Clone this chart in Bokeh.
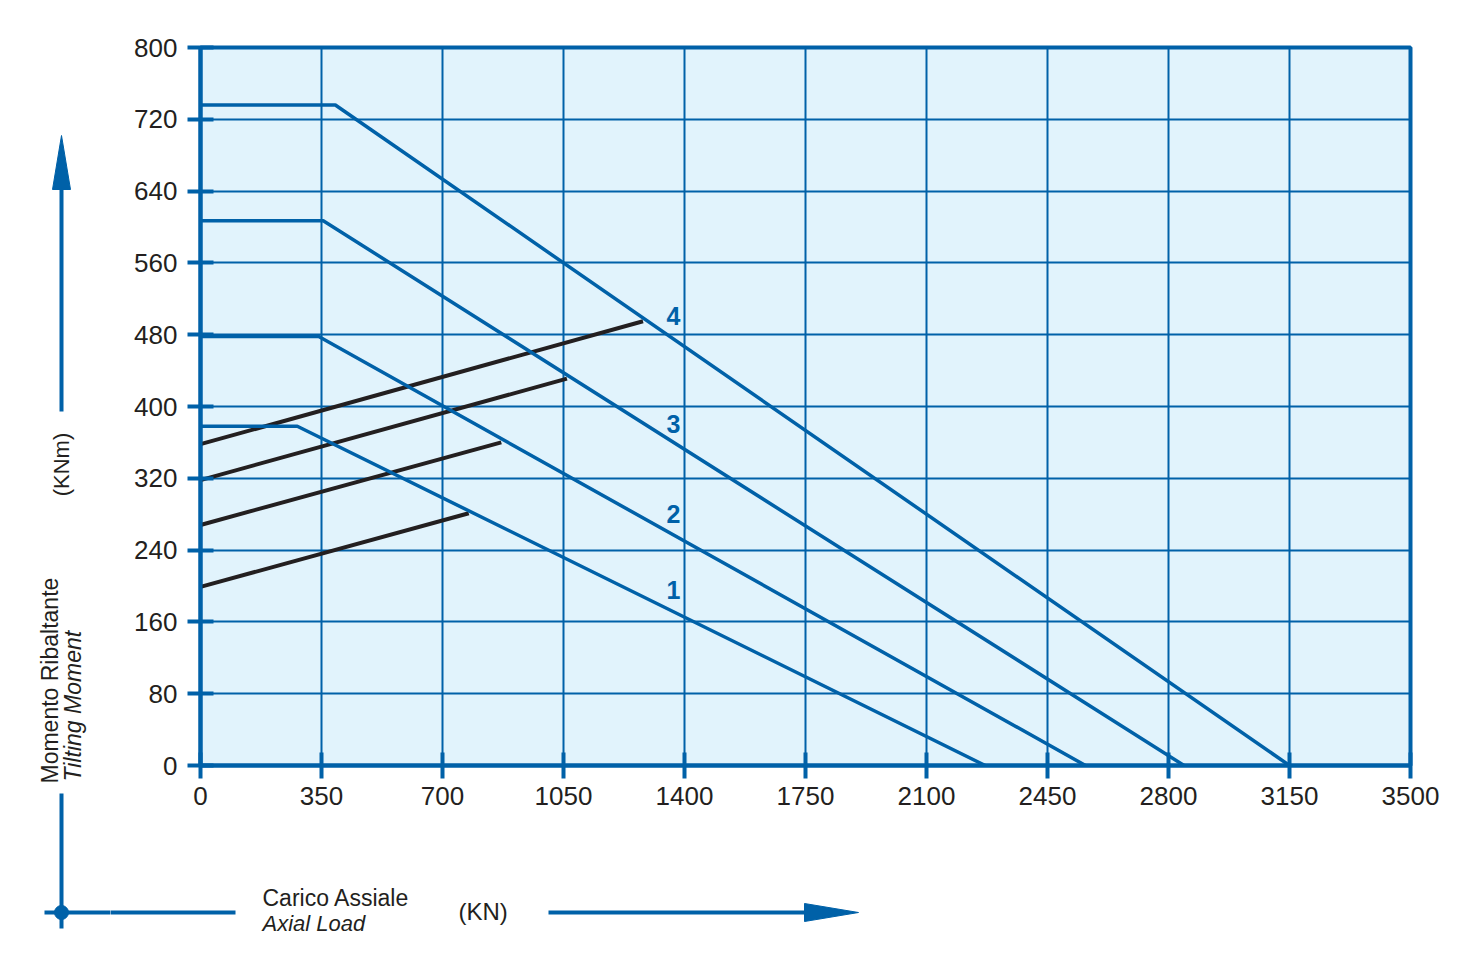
import numpy as np
from bokeh.plotting import figure
from bokeh.layouts import row, column
from bokeh.models import Range1d, FixedTicker, ColumnDataSource
from bokeh.core.properties import value
from bokeh.embed import file_html
from bokeh.resources import INLINE

# ---------------- data ----------------
x_ticks = [0, 350, 700, 1050, 1400, 1750, 2100, 2450, 2800, 3150, 3500]
y_ticks = [0, 80, 160, 240, 320, 400, 480, 560, 640, 720, 800]

curve_names = ["1", "2", "3", "4"]
# blue limit curves (tilting moment vs axial load)
curve1_x = [0, 280, 2270]
curve1_y = [378, 378, 0]
curve2_x = [0, 342, 2560]
curve2_y = [478, 478, 0]
curve3_x = [0, 355, 2845]
curve3_y = [607, 607, 0]
curve4_x = [0, 390, 3150]
curve4_y = [736, 736, 0]

# black load lines
load1_x = [0, 776]
load1_y = [199, 281]
load2_x = [0, 870]
load2_y = [268, 360]
load3_x = [0, 1060]
load3_y = [318, 431]
load4_x = [0, 1280]
load4_y = [358, 495]

label_x = [1368, 1368, 1368, 1368]
label_y = [195, 280, 381, 501]

y_title = ["Momento Ribaltante", "Tilting Moment"]
y_unit = "(KNm)"
x_title = ["Carico Assiale", "Axial Load"]
x_unit = "(KN)"

# ---------------- style ----------------
BLUE = "#0061A8"
DARK = "#231F20"
BG = "#E1F3FC"
FONT = "Liberation Sans"

LEFT_W = 110          # width of the left decoration strip
TOTAL_W = 1459
TOTAL_H = 950
MAIN_H = 828
FW, FH = 1210, 718

p = figure(frame_width=FW, frame_height=FH,
           x_range=Range1d(0, 3500), y_range=Range1d(0, 800),
           output_backend="svg", toolbar_location=None,
           min_border_left=200 - LEFT_W, min_border_right=TOTAL_W - LEFT_W - (200 - LEFT_W) - FW,
           min_border_top=47, min_border_bottom=MAIN_H - 47 - FH)

p.background_fill_color = BG
p.border_fill_color = "white"
p.outline_line_color = BLUE
p.outline_line_width = 4
p.outline_line_alpha = 1

for ax, ticks in ((p.xaxis, x_ticks), (p.yaxis, y_ticks)):
    ax.ticker = FixedTicker(ticks=ticks)
    ax.minor_tick_line_color = None
    ax.major_tick_in = 13
    ax.major_tick_out = 13
    ax.major_tick_line_width = 4
    ax.major_tick_line_color = BLUE
    ax.axis_line_width = 4
    ax.axis_line_color = BLUE
    ax.major_label_text_font = FONT
    ax.major_label_text_font_size = "26px"
    ax.major_label_text_color = DARK
p.xaxis.major_label_standoff = 8
p.yaxis.major_label_standoff = 10

p.grid.grid_line_color = BLUE
p.grid.grid_line_width = 2
p.grid.grid_line_alpha = 1

black_src = ColumnDataSource(dict(xs=[load1_x, load2_x, load3_x, load4_x],
                                  ys=[load1_y, load2_y, load3_y, load4_y]))
p.multi_line("xs", "ys", source=black_src, line_color=DARK, line_width=4)

blue_src = ColumnDataSource(dict(xs=[curve1_x, curve2_x, curve3_x, curve4_x],
                                 ys=[curve1_y, curve2_y, curve3_y, curve4_y]))
p.multi_line("xs", "ys", source=blue_src, line_color=BLUE, line_width=3.5)

lab_src = ColumnDataSource(dict(x=label_x, y=label_y, t=curve_names))
p.text("x", "y", text="t", source=lab_src, text_font=value(FONT),
       text_font_style="bold", text_font_size="25px", text_color=BLUE,
       text_align="center", text_baseline="middle")


# ---------------- decoration strips (pixel coordinates, y down) ----------------
def strip(w, h):
    f = figure(width=w, height=h, x_range=Range1d(0, w), y_range=Range1d(h, 0),
               output_backend="svg", toolbar_location=None,
               x_axis_type=None, y_axis_type=None,
               min_border=0, min_border_left=0, min_border_right=0,
               min_border_top=0, min_border_bottom=0)
    f.outline_line_color = None
    f.grid.visible = False
    f.background_fill_color = "white"
    f.border_fill_color = "white"
    return f


def add_text(f, x, y, txt, size, style="normal", angle=0.0, align="left"):
    f.text(x=[x], y=[y], text=[txt], angle=angle, text_font=value(FONT),
           text_font_size=size, text_font_style=style, text_color=DARK,
           text_align=align, text_baseline="middle")


# left strip: page x 0..LEFT_W, y 0..TOTAL_H
L = strip(LEFT_W, TOTAL_H)
add_text(L, 49, 783, y_title[0], "23px", angle=np.pi / 2)
add_text(L, 72, 781, y_title[1], "23px", style="italic", angle=np.pi / 2)
add_text(L, 61, 464, y_unit, "22px", angle=np.pi / 2, align="center")
L.segment(x0=[61, 61, 44], y0=[411, 793, 912], x1=[61, 61, LEFT_W + 6], y1=[187, 928, 912],
          line_color=BLUE, line_width=4)
L.patch(x=[52, 70, 61], y=[189, 189, 135], fill_color=BLUE, line_color=BLUE, line_width=1)
L.scatter(x=[61], y=[912], size=14, marker="circle", fill_color=BLUE, line_color=BLUE)

# bottom strip: page x LEFT_W..TOTAL_W, y MAIN_H..TOTAL_H
BW, BH = TOTAL_W - LEFT_W, TOTAL_H - MAIN_H
B = strip(BW, BH)
ox, oy = LEFT_W, MAIN_H
add_text(B, 262 - ox, 897 - oy, x_title[0], "23px")
add_text(B, 262 - ox, 923 - oy, x_title[1], "22px", style="italic")
add_text(B, 458 - ox, 911 - oy, x_unit, "24px")
B.segment(x0=[-6, 548 - ox], y0=[912 - oy, 912 - oy], x1=[235 - ox, 806 - ox], y1=[912 - oy, 912 - oy],
          line_color=BLUE, line_width=4)
B.patch(x=[804 - ox, 804 - ox, 858 - ox], y=[903 - oy, 921 - oy, 912 - oy],
        fill_color=BLUE, line_color=BLUE, line_width=1)

layout = row(L, column(p, row(B, spacing=0), spacing=0), spacing=0)

open("out.html", "w").write(file_html(layout, INLINE))
